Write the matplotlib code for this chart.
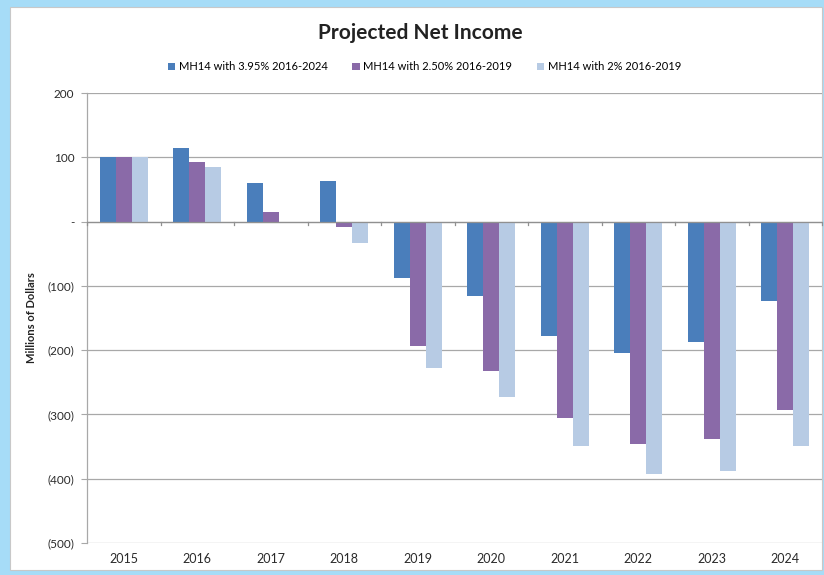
import matplotlib
matplotlib.use("Agg")
import matplotlib.pyplot as plt
import numpy as np
from matplotlib.patches import Rectangle
from matplotlib.ticker import FuncFormatter, MultipleLocator

years = ["2015", "2016", "2017", "2018", "2019", "2020", "2021", "2022", "2023", "2024"]
series_names = ["MH14 with 3.95% 2016-2024", "MH14 with 2.50% 2016-2019", "MH14 with 2% 2016-2019"]
rate_395 = [100, 114, 60, 63, -88, -115, -178, -205, -187, -123]
rate_250 = [100, 93, 15, -8, -194, -232, -306, -346, -338, -293]
rate_200 = [100, 85, 0, -34, -228, -273, -349, -393, -388, -349]
colors = ["#4a7ebb", "#8a6aa8", "#b7cbe4"]

plt.rcParams["font.family"] = ["Lato", "DejaVu Sans"]

fig = plt.figure(figsize=(8.24, 5.75), dpi=100)
fig.patch.set_facecolor("#a6dcf7")
# white chart panel inside the blue frame
fig.patches.append(Rectangle((10 / 824, 5 / 575), 812 / 824, 563 / 575,
                             transform=fig.transFigure, facecolor="white",
                             edgecolor="#c8c8c8", linewidth=0.8, zorder=-5))

ax = fig.add_axes([87 / 824, 1 - 543 / 575, (822 - 87) / 824, (543 - 93) / 575])
ax.set_zorder(2)
ax.set_facecolor("none")

x = np.arange(len(years))
w = 0.218
for i, (vals, name) in enumerate(zip([rate_395, rate_250, rate_200], series_names)):
    ax.bar(x + (i - 1) * w, vals, width=w, color=colors[i], label=name, zorder=3)

ax.set_xlim(-0.5, len(years) - 0.5)
ax.set_ylim(-500, 200)
ax.yaxis.set_major_locator(MultipleLocator(100))
ax.yaxis.grid(True, color="#a8a8a8", linewidth=0.9, zorder=0)
ax.set_axisbelow(True)


def fmt(v, pos):
    v = int(round(v))
    if v == 0:
        return "-"
    if v < 0:
        return f"({-v})"
    return f"{v}"


ax.yaxis.set_major_formatter(FuncFormatter(fmt))
ax.set_xticks(x)
ax.set_xticklabels(years)
ax.tick_params(axis="x", length=0, pad=7, labelsize=9, colors="#2a2a2a")
ax.tick_params(axis="y", length=4, width=0.8, color="#a8a8a8", pad=5, labelsize=8.5, colors="#2a2a2a")

for s in ["top", "right", "bottom"]:
    ax.spines[s].set_visible(False)
ax.spines["left"].set_color("#a8a8a8")
ax.spines["left"].set_linewidth(0.9)

# horizontal category axis crossing at zero, with tick marks between categories
ax.axhline(0, color="#909090", linewidth=0.9, zorder=4)
for b in np.arange(-0.5, len(years) + 0.5, 1.0):
    ax.plot([b, b], [0, -5], color="#909090", linewidth=0.9, zorder=4, clip_on=False)

ax.set_ylabel("Millions of Dollars", fontsize=8, fontweight="bold", color="#222222")
ax.yaxis.set_label_coords(-0.068, 0.5)

fig.text(0.51, 1 - 33 / 575, "Projected Net Income", ha="center", va="center",
         fontsize=15, fontweight="bold", color="#222222")
fig.legend(loc="center", bbox_to_anchor=(0.515, 1 - 67 / 575), ncol=3, frameon=False,
           fontsize=8, handlelength=0.7, handleheight=0.7, handletextpad=0.3,
           columnspacing=2.2)

fig.savefig("out.png", dpi=100, facecolor=fig.get_facecolor())
